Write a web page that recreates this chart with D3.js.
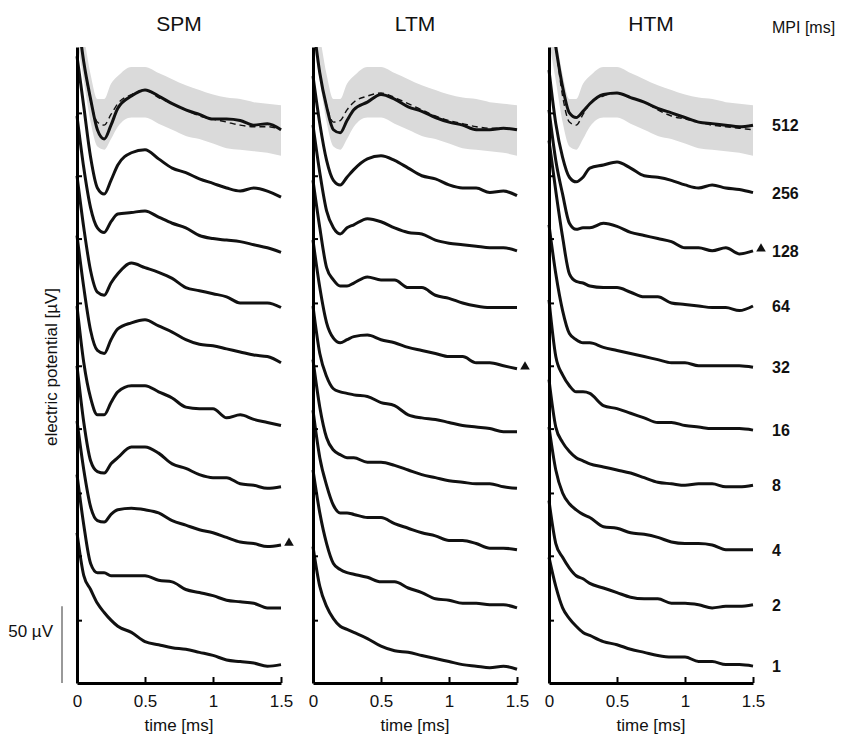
<!DOCTYPE html>
<html>
<head>
<meta charset="utf-8">
<script src="https://cdn.jsdelivr.net/npm/d3@7"></script>
<style>
  body { margin: 0; background: #fff; }
  text { font-family: "Liberation Sans", Arial, Helvetica, sans-serif; fill: #111; }
</style>
</head>
<body>
<script>
// sample times (ms) shared by every trace
const times = [0, 0.05, 0.1, 0.15, 0.2, 0.25, 0.3, 0.4, 0.5, 0.6, 0.7, 0.8, 0.9, 1.0, 1.1, 1.2, 1.3, 1.4, 1.5];
const mpi = [512, 256, 128, 64, 32, 16, 8, 4, 2, 1];
const panels = ["SPM", "LTM", "HTM"];

// offset traces in µV, one row per MPI (512 ... 1)
const spmTraces = [
  [439, 405, 381, 361, 355, 364, 375, 383, 387, 383, 378, 374, 371, 368, 368, 367, 364, 365, 361],
  [409, 376, 343, 323, 319, 328, 338, 346, 348, 342, 336, 333, 329, 326, 323, 321, 323, 321, 317],
  [370, 336, 310, 297, 294, 301, 306, 307, 308, 304, 300, 297, 292, 290, 289, 288, 286, 284, 281],
  [331, 297, 269, 255, 253, 261, 267, 274, 271, 268, 264, 258, 256, 254, 252, 248, 248, 248, 245],
  [292, 258, 230, 217, 215, 224, 231, 235, 237, 233, 229, 224, 221, 220, 218, 216, 214, 213, 209],
  [246, 209, 186, 175, 175, 183, 190, 194, 194, 190, 186, 180, 179, 179, 173, 175, 172, 170, 168],
  [207, 170, 145, 138, 137, 143, 147, 154, 154, 150, 143, 140, 136, 134, 134, 130, 129, 127, 128],
  [171, 139, 115, 106, 105, 110, 113, 114, 113, 111, 106, 103, 100, 98, 95, 92, 91, 89, 90],
  [136, 103, 78, 72, 72, 70, 70, 70, 70, 67, 66, 61, 59, 57, 54, 53, 52, 49, 49],
  [98, 70, 61, 52, 46, 41, 37, 33, 27, 25, 23, 22, 20, 18, 15, 14, 13, 11, 12]
];
const ltmTraces = [
  [432, 398, 376, 361, 359, 367, 374, 379, 384, 381, 376, 373, 369, 366, 364, 361, 361, 362, 361],
  [396, 365, 341, 328, 325, 330, 335, 342, 344, 341, 336, 331, 329, 325, 323, 323, 320, 321, 318],
  [364, 333, 308, 297, 293, 297, 299, 303, 301, 297, 294, 293, 289, 287, 286, 285, 284, 284, 282],
  [328, 297, 271, 263, 259, 259, 261, 265, 263, 263, 258, 258, 253, 251, 248, 246, 245, 245, 245],
  [289, 258, 235, 225, 222, 224, 226, 227, 224, 222, 219, 217, 215, 213, 213, 209, 209, 207, 205],
  [246, 215, 200, 192, 190, 189, 188, 187, 183, 181, 175, 173, 172, 170, 168, 167, 166, 164, 164],
  [211, 180, 160, 152, 149, 147, 147, 144, 144, 142, 139, 136, 134, 132, 131, 130, 130, 128, 127],
  [178, 147, 129, 116, 111, 111, 110, 108, 108, 104, 101, 98, 96, 93, 93, 91, 88, 88, 87],
  [139, 111, 91, 78, 74, 72, 71, 69, 66, 66, 62, 59, 55, 54, 52, 52, 51, 51, 49],
  [89, 63, 50, 42, 37, 35, 33, 29, 24, 21, 20, 18, 16, 14, 12, 11, 10, 11, 9]
];
const htmTraces = [
  [445, 415, 389, 372, 369, 373, 378, 384, 385, 382, 379, 375, 372, 369, 366, 365, 364, 363, 364],
  [400, 365, 343, 330, 327, 330, 336, 338, 340, 336, 331, 330, 328, 325, 323, 325, 323, 322, 320],
  [374, 341, 319, 300, 296, 297, 297, 300, 298, 294, 292, 290, 288, 284, 284, 282, 284, 280, 282],
  [354, 321, 291, 267, 262, 261, 259, 258, 258, 255, 252, 252, 248, 247, 246, 245, 245, 243, 246],
  [299, 267, 243, 228, 224, 222, 222, 219, 217, 215, 213, 211, 209, 209, 207, 207, 207, 207, 206],
  [250, 213, 201, 194, 190, 190, 189, 181, 179, 176, 173, 170, 170, 168, 167, 166, 166, 166, 165],
  [198, 167, 157, 151, 147, 145, 143, 141, 139, 137, 134, 131, 130, 129, 130, 130, 128, 128, 129],
  [167, 139, 124, 117, 113, 110, 108, 102, 101, 98, 97, 95, 92, 91, 91, 90, 87, 87, 87],
  [119, 91, 82, 75, 70, 68, 65, 62, 59, 56, 55, 55, 52, 52, 51, 49, 50, 50, 51],
  [82, 63, 49, 42, 37, 33, 31, 27, 25, 22, 20, 18, 17, 17, 14, 14, 12, 12, 11]
];

// dashed reference curve for MPI 512
const spmDashed = [439, 405, 380, 366, 364, 371, 378, 384, 387, 382, 378, 374, 370, 368, 366, 364, 363, 363, 361];
const ltmDashed = [432, 398, 377, 366, 367, 374, 379, 383, 385, 382, 378, 374, 370, 367, 365, 363, 362, 362, 361];
const htmDashed = [445, 415, 383, 366, 364, 371, 378, 383, 385, 382, 379, 374, 370, 368, 366, 364, 363, 362, 361];

// grey range around the 512 trace
const bandUpper = [445, 422, 397, 381, 381, 391, 396, 402, 402, 398, 394, 390, 387, 384, 382, 381, 379, 378, 377];
const bandLower = [419, 393, 366, 350, 348, 355, 363, 369, 369, 365, 361, 357, 355, 352, 349, 348, 347, 346, 344];

const xTicks = [0, 0.5, 1, 1.5];
const yTicks = [41, 83, 124, 166, 207, 248, 290, 331, 372];
const markerMpi = [4, 32, 128]; // triangle per panel
const scaleBarValue = 50;

const allTraces = [spmTraces, ltmTraces, htmTraces];
const allDashed = [spmDashed, ltmDashed, htmDashed];

const svg = d3.select("body").append("svg")
  .attr("width", 841)
  .attr("height", 735);

const y = d3.scaleLinear().domain([0, 415]).range([683, 47]);
const x = d3.scaleLinear().domain([0, 1.5]).range([0, 204]);
const panelX = d3.scaleLinear().domain([0, 2]).range([77, 549]);

const line = d3.line()
  .x((d, i) => x(times[i]))
  .y(d => y(d))
  .curve(d3.curveMonotoneX);

const band = d3.area()
  .x((d, i) => x(times[i]))
  .y0((d, i) => y(bandLower[i]))
  .y1(d => y(d))
  .curve(d3.curveMonotoneX);

svg.append("defs").append("clipPath")
  .attr("id", "clip")
  .append("rect")
  .attr("x", -8).attr("y", 47)
  .attr("width", 224).attr("height", 640);

panels.forEach((name, p) => {
  const g = svg.append("g").attr("transform", `translate(${panelX(p)},0)`);
  const plot = g.append("g").attr("clip-path", "url(#clip)");

  plot.append("path")
    .attr("d", band(bandUpper))
    .attr("fill", "#dadada");

  plot.selectAll("path.trace")
    .data(allTraces[p])
    .join("path")
    .attr("class", "trace")
    .attr("d", line)
    .attr("fill", "none")
    .attr("stroke", "#111")
    .attr("stroke-width", 3)
    .attr("stroke-linejoin", "round");

  plot.append("path")
    .attr("d", line(allDashed[p]))
    .attr("fill", "none")
    .attr("stroke", "#111")
    .attr("stroke-width", 1.4)
    .attr("stroke-dasharray", "6,4");

  // y axis with inward ticks, no labels
  const ya = g.append("g").call(
    d3.axisRight(y).tickValues(yTicks).tickSize(5).tickSizeOuter(0).tickFormat("")
  );
  ya.select(".domain").attr("stroke-width", 3);
  ya.selectAll(".tick line").attr("stroke-width", 2);

  // x axis, ticks pointing up, labels below
  const xa = g.append("g").attr("transform", "translate(0,683)").call(
    d3.axisBottom(x).tickValues(xTicks).tickSizeInner(-6).tickSizeOuter(0)
      .tickPadding(12).tickFormat(d => d)
  );
  xa.select(".domain").attr("stroke-width", 3);
  xa.selectAll(".tick line").attr("stroke-width", 2);
  xa.selectAll(".tick text")
    .attr("font-size", 17)
    .attr("font-family", "Liberation Sans, Arial, sans-serif")
    .attr("fill", "#111");
  xa.selectAll(".tick").filter(d => d === 0).select("line").remove();

  g.append("text")
    .attr("x", x(0.75)).attr("y", 31)
    .attr("text-anchor", "middle")
    .attr("font-size", 21)
    .text(name);

  g.append("text")
    .attr("x", x(0.75)).attr("y", 731)
    .attr("text-anchor", "middle")
    .attr("font-size", 17)
    .text("time [ms]");

  const mi = mpi.indexOf(markerMpi[p]);
  const last = allTraces[p][mi][times.length - 1];
  g.append("path")
    .attr("d", d3.symbol(d3.symbolTriangle, 40)())
    .attr("transform", `translate(${x(1.5) + 8},${y(last) - 2})`)
    .attr("fill", "#111");
});

// MPI labels at the right, aligned with HTM trace ends
svg.append("text")
  .attr("x", 772).attr("y", 33)
  .attr("font-size", 16)
  .text("MPI [ms]");

svg.selectAll("text.mpi")
  .data(mpi)
  .join("text")
  .attr("class", "mpi")
  .attr("x", 772)
  .attr("y", (d, i) => y(htmTraces[i][times.length - 1]) + 6)
  .attr("font-size", 16)
  .attr("font-weight", "bold")
  .text(d => d);

// y label
svg.append("text")
  .attr("transform", "translate(57,367) rotate(-90)")
  .attr("text-anchor", "middle")
  .attr("font-size", 17)
  .text("electric potential [µV]");

// 50 µV scale bar
svg.append("line")
  .attr("x1", 62).attr("x2", 62)
  .attr("y1", y(0)).attr("y2", y(scaleBarValue))
  .attr("stroke", "#555")
  .attr("stroke-width", 1.2);

svg.append("text")
  .attr("x", 53).attr("y", y(scaleBarValue / 2) - 8)
  .attr("text-anchor", "end")
  .attr("font-size", 17)
  .text(`${scaleBarValue} µV`);
</script>
</body>
</html>
